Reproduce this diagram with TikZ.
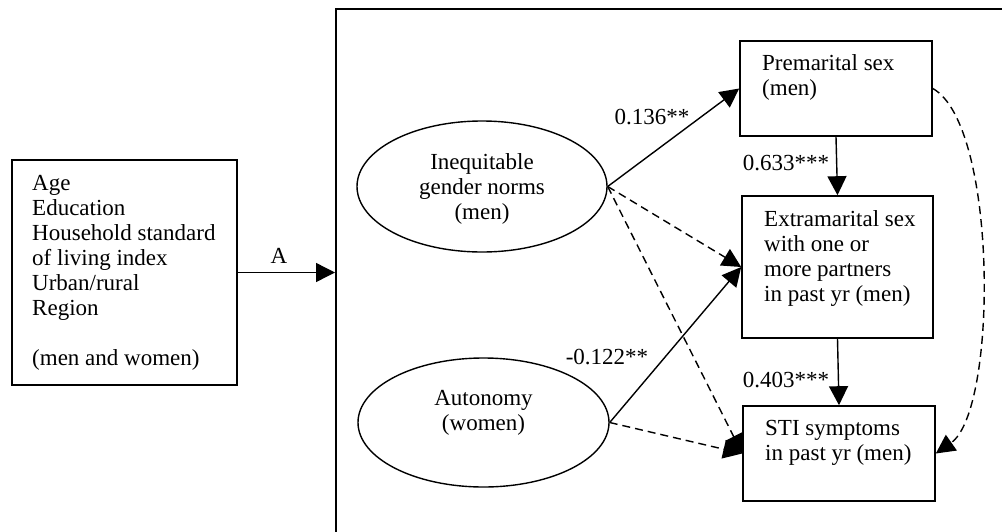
\documentclass[tikz,border=0pt]{standalone}
\usepackage{fontspec}
\setmainfont{Liberation Serif}
\usetikzlibrary{shapes.geometric,arrows.meta,calc}
\begin{document}
\begin{tikzpicture}[x=1pt,y=-1pt,
  every node/.style={font=\fontsize{23}{25}\selectfont},
  box/.style={draw, line width=1.6pt, inner sep=0pt},
  txt/.style={align=left, inner sep=0pt, anchor=west},
  ctxt/.style={align=center, inner sep=0pt},
  oval/.style={draw, ellipse, line width=1.4pt, inner sep=0pt},
  conn/.style={line width=1.4pt, -{Triangle[length=19pt,width=19pt]}},
  dconn/.style={conn, dash pattern=on 8pt off 5pt},
  lab/.style={inner sep=0pt}
]
\useasboundingbox (0,0) rectangle (1002,531);
\clip (0,0) rectangle (1002,531);
% outer frame
\node[box, anchor=north west, minimum width=800pt, minimum height=600pt] (frame) at (335,8) {};
% left box
\node[box, minimum width=225pt, minimum height=225pt] (left) at (124.5,272.5) {};
\node[txt] (lefttxt) at (32,273) {Age\\Education\\Household standard\\of living index\\Urban/rural\\Region\\[25pt](men and women)};
% ellipses
\node[oval, minimum width=250pt, minimum height=131pt] (ineq) at (482,186.5) {};
\node[ctxt] (ineqtxt) at (482,188.5) {Inequitable\\gender norms\\(men)};
\node[oval, minimum width=251pt, minimum height=129pt] (auto) at (483.5,422.5) {};
\node[ctxt] (autotxt) at (483.5,413) {Autonomy\\(women)};
% outcome boxes
\node[box, minimum width=192pt, minimum height=95pt] (pre) at (836,88.5) {};
\node[txt] (pretxt) at (762,77.5) {Premarital sex\\(men)};
\node[box, minimum width=191pt, minimum height=142pt] (extra) at (837.5,267) {};
\node[txt] (extratxt) at (764,258) {Extramarital sex\\with one or\\more partners\\in past yr (men)};
\node[box, minimum width=192pt, minimum height=95pt] (sti) at (839,453.5) {};
\node[txt] (stitxt) at (765,443) {STI symptoms\\in past yr (men)};
% labels
\node[lab] (la) at (279,256) {A};
\node[lab] (l136) at (652,117) {0.136**};
\node[lab] (l633) at (786,163) {0.633***};
\node[lab] (l122) at (607,357) {-0.122**};
\node[lab] (l403) at (786,380) {0.403***};
% connectors
\draw[conn] (left.east) -- (left.east -| frame.west);
\draw[conn] (ineq.east) -- (pre.west);
\draw[dconn] (ineq.east) -- (extra.west);
\draw[dconn] (ineq.east) -- (sti.west);
\draw[conn] (auto.east) -- (extra.west);
\draw[dconn] (auto.east) -- (sti.west);
\draw[conn] (pre.south) -- (extra.north);
\draw[conn] (extra.south) -- (sti.north);
\draw[dconn] (pre.east) .. controls (998,125) and (998,410) .. (sti.east);
\end{tikzpicture}
\end{document}
